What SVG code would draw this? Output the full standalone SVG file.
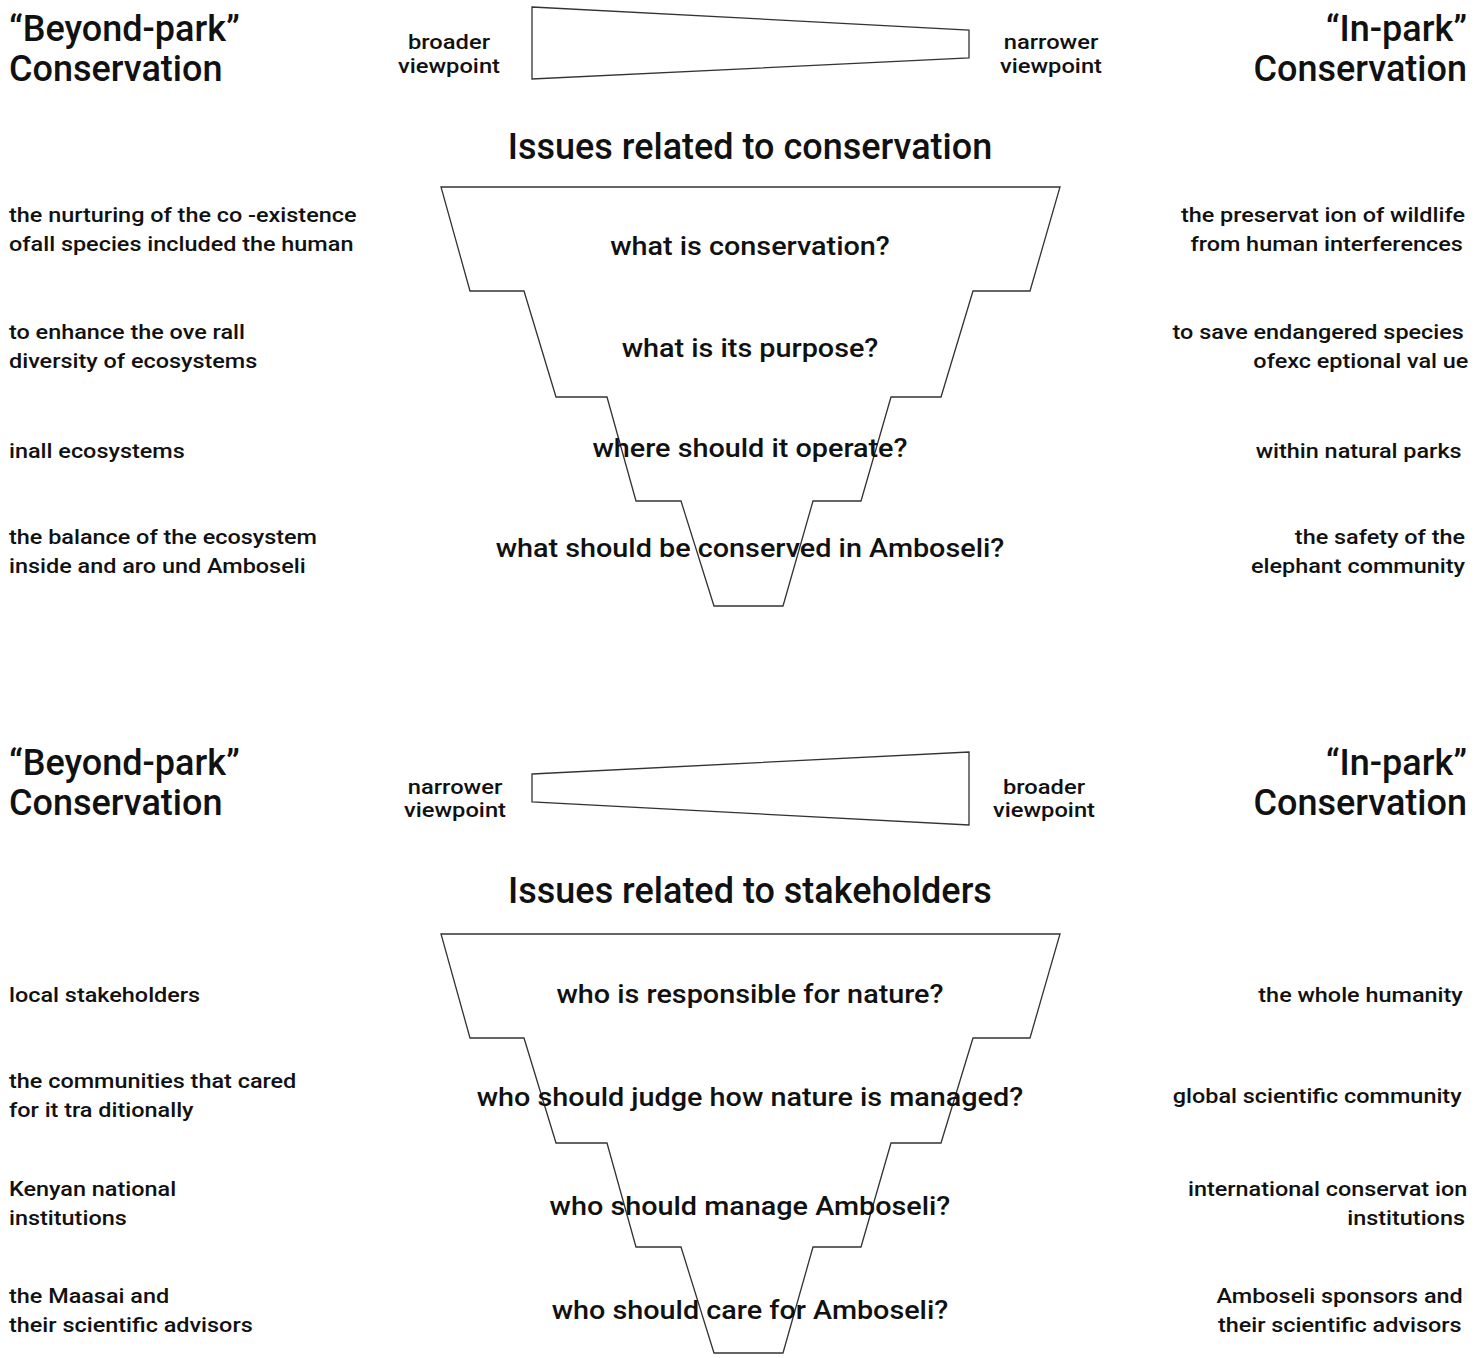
<svg xmlns="http://www.w3.org/2000/svg" width="1477" height="1358" viewBox="0 0 1477 1358">
<style>
text{font-family:Roboto,"Liberation Sans",sans-serif;font-weight:500;fill:#111}
.h{font-size:36px}
.q{font-size:26px;text-anchor:middle}
.s{font-size:21px}
.c{text-anchor:middle}
.r{text-anchor:end}
.shape{fill:#fff;stroke:#333;stroke-width:1.3;stroke-linejoin:miter}
</style>
<rect width="1477" height="1358" fill="#fff"/>
<g id="top-section">
  <g id="top-headers">
    <text class="h" x="9" y="41">“Beyond-park”</text>
    <text class="h" x="9" y="81">Conservation</text>
    <text class="h r" x="1467" y="41">“In-park”</text>
    <text class="h r" x="1467" y="81">Conservation</text>
  </g>
  <g id="top-viewpoint">
    <polygon class="shape" points="532,7 969,30 969,58 532,79"/>
    <g transform="translate(449 0) scale(1.13 1) translate(-449 0)">
      <text class="s c" x="449" y="49">broader</text>
      <text class="s c" x="449" y="73">viewpoint</text>
    </g>
    <g transform="translate(1051 0) scale(1.13 1) translate(-1051 0)">
      <text class="s c" x="1051" y="49">narrower</text>
      <text class="s c" x="1051" y="73">viewpoint</text>
    </g>
  </g>
  <text class="h c" x="750" y="159">Issues related to conservation</text>
  <g id="top-funnel">
    <polygon class="shape" points="441,187 1060,187 1030,291 973,291 941,397 891,397 861,501 813,501 783,606 714,606 681,501 636,501 607,397 556,397 524,291 470,291"/>
    <g transform="translate(750 0) scale(1.107 1) translate(-750 0)">
      <text class="q" x="750" y="255">what is conservation?</text>
      <text class="q" x="750" y="357">what is its purpose?</text>
      <text class="q" x="750" y="457">where should it operate?</text>
      <text class="q" x="750" y="557">what should be conserved in Amboseli?</text>
    </g>
  </g>
  <g id="top-left-labels" transform="translate(9 0) scale(1.115 1) translate(-9 0)">
    <text class="s" x="9" y="222">the nurturing of the co -existence</text>
    <text class="s" x="9" y="251">ofall species included the human</text>
    <text class="s" x="9" y="339">to enhance the ove rall</text>
    <text class="s" x="9" y="368">diversity of ecosystems</text>
    <text class="s" x="9" y="458">inall ecosystems</text>
    <text class="s" x="9" y="544">the balance of the ecosystem</text>
    <text class="s" x="9" y="573">inside and aro und Amboseli</text>
  </g>
  <g id="top-right-labels" transform="translate(1465 0) scale(1.115 1) translate(-1465 0)">
    <text class="s r" x="1465" y="222">the preservat ion of wildlife</text>
    <text class="s r" x="1463" y="251">from human interferences</text>
    <text class="s r" x="1464" y="339">to save endangered species</text>
    <text class="s r" x="1468" y="368">ofexc eptional val ue</text>
    <text class="s r" x="1462" y="458">within natural parks</text>
    <text class="s r" x="1465" y="544">the safety of the</text>
    <text class="s r" x="1465" y="573">elephant community</text>
  </g>
</g>
<g id="bottom-section">
  <g id="bottom-headers">
    <text class="h" x="9" y="775">“Beyond-park”</text>
    <text class="h" x="9" y="815">Conservation</text>
    <text class="h r" x="1467" y="775">“In-park”</text>
    <text class="h r" x="1467" y="815">Conservation</text>
  </g>
  <g id="bottom-viewpoint">
    <polygon class="shape" points="532,774 969,752 969,825 532,802"/>
    <g transform="translate(455 0) scale(1.13 1) translate(-455 0)">
      <text class="s c" x="455" y="794">narrower</text>
      <text class="s c" x="455" y="817">viewpoint</text>
    </g>
    <g transform="translate(1044 0) scale(1.13 1) translate(-1044 0)">
      <text class="s c" x="1044" y="794">broader</text>
      <text class="s c" x="1044" y="817">viewpoint</text>
    </g>
  </g>
  <text class="h c" x="750" y="903">Issues related to stakeholders</text>
  <g id="bottom-funnel">
    <polygon class="shape" points="441,934 1060,934 1030,1038 973,1038 941,1143 891,1143 861,1247 813,1247 783,1353 714,1353 681,1247 636,1247 607,1143 556,1143 524,1038 470,1038"/>
    <g transform="translate(750 0) scale(1.107 1) translate(-750 0)">
      <text class="q" x="750" y="1003">who is responsible for nature?</text>
      <text class="q" x="750" y="1106">who should judge how nature is managed?</text>
      <text class="q" x="750" y="1215">who should manage Amboseli?</text>
      <text class="q" x="750" y="1319">who should care for Amboseli?</text>
    </g>
  </g>
  <g id="bottom-left-labels" transform="translate(9 0) scale(1.115 1) translate(-9 0)">
    <text class="s" x="9" y="1002">local stakeholders</text>
    <text class="s" x="9" y="1088">the communities that cared</text>
    <text class="s" x="9" y="1117">for it tra ditionally</text>
    <text class="s" x="9" y="1196">Kenyan national</text>
    <text class="s" x="9" y="1225">institutions</text>
    <text class="s" x="9" y="1303">the Maasai and</text>
    <text class="s" x="9" y="1332">their scientific advisors</text>
  </g>
  <g id="bottom-right-labels" transform="translate(1465 0) scale(1.115 1) translate(-1465 0)">
    <text class="s r" x="1463" y="1002">the whole humanity</text>
    <text class="s r" x="1462" y="1103">global scientific community</text>
    <text class="s r" x="1467" y="1196">international conservat ion</text>
    <text class="s r" x="1465" y="1225">institutions</text>
    <text class="s r" x="1463" y="1303">Amboseli sponsors and</text>
    <text class="s r" x="1462" y="1332">their scientific advisors</text>
  </g>
</g>
</svg>
